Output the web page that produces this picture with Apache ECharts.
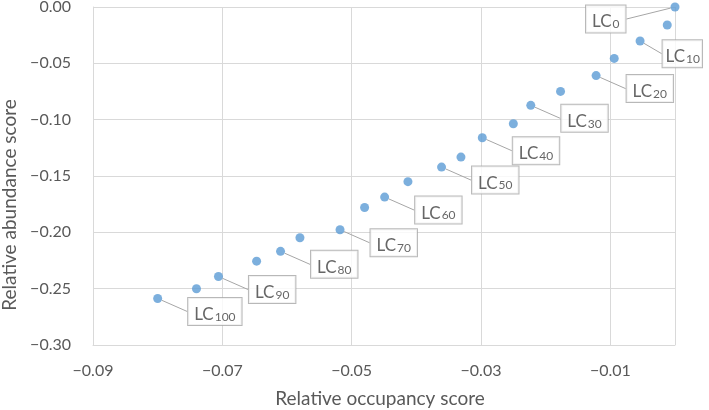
<!DOCTYPE html>
<html>
<head>
<meta charset="utf-8">
<script src="https://cdn.jsdelivr.net/npm/echarts@6/dist/echarts.min.js"></script>
<style>html,body{margin:0;padding:0;background:#fff}#c{width:709px;height:410px}</style>
</head>
<body>
<div id="c"></div>
<script>
const pointNames = ['LC0','LC5','LC10','LC15','LC20','LC25','LC30','LC35','LC40','LC45','LC50','LC55','LC60','LC65','LC70','LC75','LC80','LC85','LC90','LC95','LC100'];
const occupancy = [0, -0.0012, -0.0054, -0.0094, -0.0122, -0.0177, -0.0223, -0.0250, -0.0298, -0.0331, -0.0361, -0.0413, -0.0449, -0.0480, -0.0518, -0.0580, -0.0610, -0.0647, -0.0706, -0.0740, -0.0800];
const abundance = [0, -0.0160, -0.0302, -0.0456, -0.0609, -0.0749, -0.0873, -0.1036, -0.1160, -0.1332, -0.1421, -0.1550, -0.1687, -0.1780, -0.1977, -0.2048, -0.2169, -0.2256, -0.2392, -0.2501, -0.2587];
const labelled = ['LC0','LC10','LC20','LC30','LC40','LC50','LC60','LC70','LC80','LC90','LC100'];

const FONT = 'Lato';
const fmt = v => (Math.abs(v) < 1e-9 ? '0.00' : (v < 0 ? '\u2212' : '') + Math.abs(v).toFixed(2));

const data = pointNames.map((n, i) => {
  const show = labelled.includes(n);
  const item = {
    name: n,
    value: [occupancy[i], abundance[i]],
    label: { show: show, position: i === 0 ? 'left' : 'right' },
    labelLine: { show: show }
  };
  if (n === 'LC10') item.label.padding = [3, 2, 2, 3];
  return item;
});

const chart = echarts.init(document.getElementById('c'), null, { renderer: 'canvas' });
chart.setOption({
  animation: false,
  grid: { left: 93, right: 34, top: 7, bottom: 65, outerBoundsMode: 'none' },
  xAxis: {
    type: 'value', min: -0.09, max: 0, interval: 0.02,
    name: 'Relative occupancy score', nameLocation: 'middle', nameGap: 44,
    nameTextStyle: { color: '#595959', fontSize: 19, fontFamily: FONT, padding: [0, 8, 0, 0] },
    axisLine: { show: true, onZero: false, lineStyle: { color: '#d9d9d9' } },
    axisTick: { show: false },
    axisLabel: { color: '#595959', fontSize: 16, fontFamily: FONT, margin: 18,
      formatter: v => (Math.abs(v) < 1e-9 ? '' : fmt(v)) },
    splitLine: { show: true, lineStyle: { color: '#d9d9d9', width: 1 } }
  },
  yAxis: {
    type: 'value', min: -0.30, max: 0, interval: 0.05,
    name: 'Relative abundance score', nameLocation: 'middle', nameGap: 74,
    nameTextStyle: { color: '#595959', fontSize: 19, fontFamily: FONT, padding: [0, 58, 0, 0] },
    axisLine: { show: true, onZero: false, lineStyle: { color: '#d9d9d9' } },
    axisTick: { show: false },
    axisLabel: { color: '#595959', fontSize: 16, fontFamily: FONT, margin: 22, formatter: fmt },
    splitLine: { show: true, lineStyle: { color: '#d9d9d9', width: 1 } }
  },
  series: [{
    type: 'scatter',
    clip: false,
    symbolSize: 9,
    itemStyle: { color: '#5B9BD5' },
    data: data,
    label: {
      formatter: p => '{a|LC}{b|' + p.name.slice(2) + '}',
      backgroundColor: '#ffffff',
      borderColor: '#a6a6a6',
      borderWidth: 1,
      padding: [3, 6, 2, 6],
      rich: {
        a: { fontSize: 17, fontFamily: FONT, color: '#404040', lineHeight: 22, verticalAlign: 'bottom' },
        b: { fontSize: 12, fontFamily: FONT, color: '#404040', lineHeight: 16, verticalAlign: 'bottom', padding: [6, 0, 0, 1] }
      }
    },
    labelLine: { lineStyle: { color: '#a6a6a6', width: 1 } },
    labelLayout: function (p) {
      if (p.dataIndex === 0) return { dx: -40, dy: 12 };
      if (p.dataIndex === 2) return { dx: 13, dy: 12.6 };
      return { dx: 21, dy: 13 };
    }
  }]
});
</script>
</body>
</html>
